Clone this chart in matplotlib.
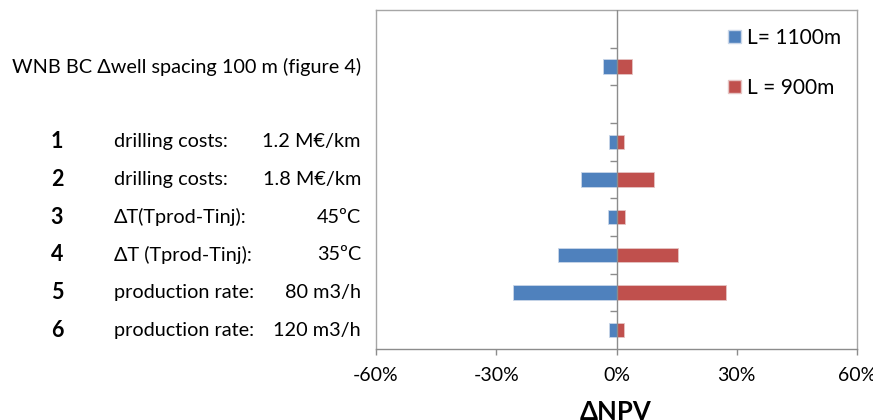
import matplotlib.pyplot as plt
from matplotlib.patches import Patch
from matplotlib.transforms import blended_transform_factory

plt.rcParams['font.family'] = ['Lato', 'DejaVu Sans']

# base case (top bar) and the six sensitivity cases
case_label = "WNB BC \u0394well spacing 100 m (figure 4)"
case_l1100 = -3.3
case_l900 = 3.75

row_nums = ["1", "2", "3", "4", "5", "6"]
row_params = ["drilling costs:", "drilling costs:", "\u0394T(Tprod-Tinj):",
              "\u0394T (Tprod-Tinj):", "production rate:", "production rate:"]
row_settings = ["1.2 M\u20ac/km", "1.8 M\u20ac/km", "45\u00baC", "35\u00baC",
                "80 m3/h", "120 m3/h"]
l1100 = [-1.8, -8.9, -2.1, -14.5, -25.75, -1.8]
l900 = [1.9, 9.4, 2.2, 15.4, 27.3, 1.9]

series_names = ["L= 1100m", "L = 900m"]
blue = "#4F81BD"
red = "#C0504D"

# category slots, top to bottom: 0 empty, 1 base case, 2 empty, 3..8 cases
case_pos = 1
row_pos = list(range(3, 3 + len(row_nums)))

fig = plt.figure(figsize=(8.73, 4.2), dpi=100)
ax = fig.add_axes([376 / 873, 1 - 349 / 420, 481 / 873, 339 / 420])

h = 0.38
ax.barh([case_pos] + row_pos, [case_l1100] + l1100, height=h, color=blue,
        edgecolor="#c9d6e8", linewidth=0.6)
ax.barh([case_pos] + row_pos, [case_l900] + l900, height=h, color=red,
        edgecolor="#e5c4c3", linewidth=0.6)

ax.set_xlim(-60, 60)
ax.set_ylim(8.5, -0.5)
ax.set_xticks([-60, -30, 0, 30, 60])
ax.set_xticklabels([f"{t}%" for t in [-60, -30, 0, 30, 60]], fontsize=14)
ax.set_yticks([])
ax.tick_params(axis="x", length=4, width=1, color="#8c8c8c", pad=9)
for s in ax.spines.values():
    s.set_color("#a6a6a6")
    s.set_linewidth(1)
ax.spines["bottom"].set_color("#8c8c8c")

# vertical category axis at zero with boundary ticks
ax.axvline(0, color="#8c8c8c", linewidth=1, zorder=3)
ax.hlines([b + 0.5 for b in range(8)], -1.6, 0, color="#8c8c8c",
          linewidth=1, zorder=3)

# left-hand labels
tr = blended_transform_factory(fig.transFigure, ax.transData)
ax.text(361 / 873, case_pos, case_label, transform=tr, ha="right",
        va="center", fontsize=14.3)
for y, n, p, v in zip(row_pos, row_nums, row_params, row_settings):
    ax.text(57 / 873, y, n, transform=tr, ha="center", va="center",
            fontsize=15.5, fontweight="bold")
    ax.text(114 / 873, y, p, transform=tr, ha="left", va="center", fontsize=14.3)
    ax.text(361 / 873, y, v, transform=tr, ha="right", va="center", fontsize=14.3)

fig.text(616 / 873, 1 - 400 / 420, "\u0394NPV", ha="center", va="top",
         fontsize=18.5, fontweight="bold")

handles = [Patch(facecolor=blue, edgecolor="#c9d6e8"),
           Patch(facecolor=red, edgecolor="#e5c4c3")]
ax.legend(handles, series_names, loc="upper left",
          bbox_to_anchor=(728 / 873, 1 - 28 / 420), bbox_transform=fig.transFigure,
          frameon=False, fontsize=15, handlelength=0.6, handleheight=0.6,
          handletextpad=0.3, labelspacing=1.45, borderpad=0, borderaxespad=0)

fig.savefig("out.png", dpi=100)
